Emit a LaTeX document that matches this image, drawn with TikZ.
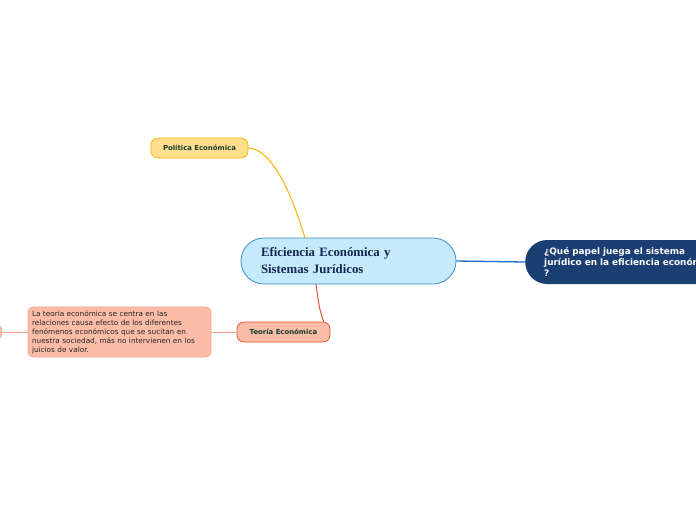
\documentclass[tikz,border=0pt]{standalone}
\usepackage{fontspec}
\setmainfont{DejaVu Sans}
\newfontfamily\serifbold{Liberation Serif Bold}
\begin{document}
\begin{tikzpicture}[x=1pt,y=-1pt,
  lbl/.style={font=\fontsize{6.9}{8}\selectfont\bfseries, text=lbltxt, rounded corners=7pt, minimum height=20pt, inner sep=0pt, line width=0.7pt},
]
\definecolor{lbltxt}{HTML}{173B2C}
\definecolor{cenfill}{HTML}{C5EAFB}
\definecolor{cendraw}{HTML}{3A8FD2}
\definecolor{centxt}{HTML}{142650}
\definecolor{navy}{HTML}{1B3F73}
\definecolor{blueln}{HTML}{1E6BD0}
\definecolor{yelfill}{HTML}{FFDF8E}
\definecolor{yeldraw}{HTML}{F5B400}
\definecolor{salfill}{HTML}{FBBCA8}
\definecolor{reddraw}{HTML}{E5532F}
\definecolor{salline}{HTML}{F4A48B}
\clip (0,0) rectangle (696,520);
\fill[white] (0,0) rectangle (696,520);

% nodes
\node[draw=cendraw, fill=cenfill, rounded corners=23pt, line width=0.8pt,
      minimum width=215pt, minimum height=46pt, text width=175pt, inner xsep=20pt,
      align=left, text=centxt, font=\serifbold\fontsize{12.8}{17}\selectfont]
      (cen) at (348.5,261) {Eficiencia Económica y\\Sistemas Jurídicos};

\node[lbl, draw=yeldraw, fill=yelfill, minimum width=97pt] (pol) at (199.5,148) {Política Económica};

\node[lbl, draw=reddraw, fill=salfill, minimum width=93pt] (teo) at (283.5,332) {Teoría Económica};

\node[draw=salline, fill=salfill, rounded corners=5pt, line width=0.7pt,
      minimum height=50pt, text width=175pt, inner xsep=4pt, align=left,
      text=black!85, font=\fontsize{7.3}{9}\selectfont]
      (desc) at (119.5,332) {La teoría económica se centra en las\\relaciones causa efecto de los diferentes\\fenómenos económicos que se sucitan en\\nuestra sociedad, más no intervienen en los\\juicios de valor.};

\node[draw=salline, fill=salfill, rounded corners=4pt, line width=0.7pt,
      minimum width=40pt, minimum height=13pt, inner sep=0pt, anchor=east]
      (edge) at (2,332) {};

\node[fill=navy, rounded corners=22pt, minimum height=44pt, text width=220pt,
      inner xsep=19pt, align=left, text=white, anchor=west,
      font=\fontsize{8.9}{11}\selectfont\bfseries]
      (q) at (525,262) {¿Qué papel juega el sistema\\jurídico en la eficiencia económica\\?};

% connectors
\coordinate (poltop) at (305,238);
\draw[yeldraw, line width=1pt] (pol.east) .. controls (275,149) and (295,205) .. (poltop);
\coordinate (cenbot) at (316,284);
\coordinate (teotop) at (324,322);
\draw[reddraw, line width=1pt] (cenbot) .. controls (318,300) and (320,314) .. (teotop);
\draw[blueln, line width=1.3pt] (cen.east) .. controls (490,261) .. (q.west);
\draw[salline, line width=0.8pt] (desc.east) -- (teo.west);
\draw[salline, line width=0.8pt] (edge.east) -- (desc.west);
\end{tikzpicture}
\end{document}
